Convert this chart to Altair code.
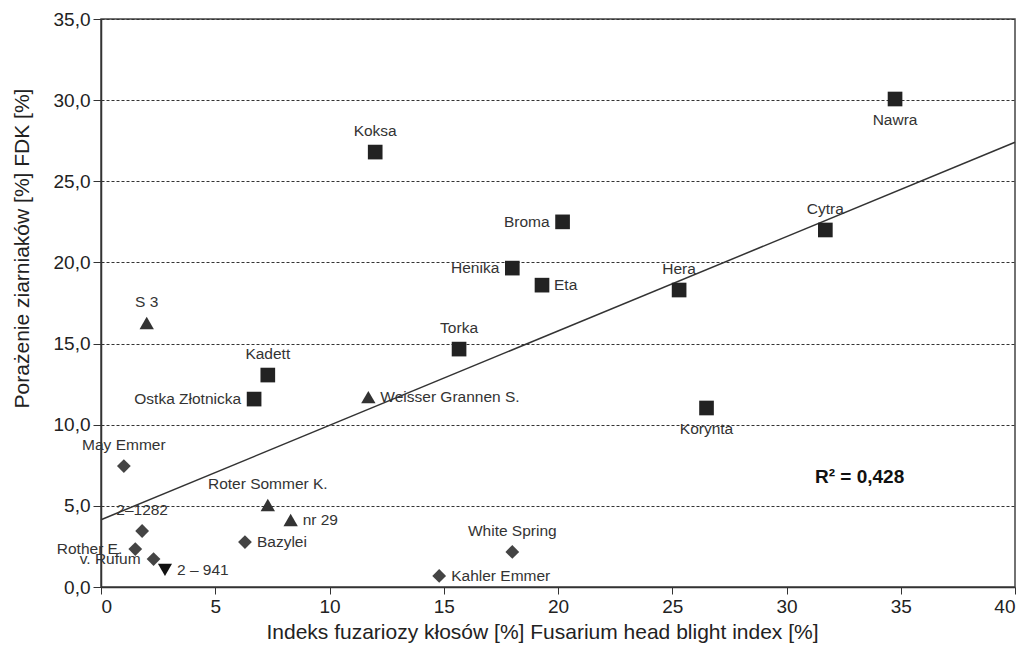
import altair as alt
import pandas as pd

names = ["Nawra", "Koksa", "Broma", "Henika", "Eta", "Cytra", "Hera", "Torka",
         "Kadett", "Ostka Złotnicka", "Korynta",
         "S 3", "Weisser Grannen S.", "Roter Sommer K.", "nr 29",
         "2 – 941",
         "May Emmer", "2–1282", "Rother E.", "v. Rufum", "Bazylei", "White Spring", "Kahler Emmer"]
fhb = [34.75, 12.0, 20.2, 18.0, 19.3, 31.7, 25.3, 15.67,
       7.3, 6.7, 26.5,
       2.0, 11.7, 7.3, 8.3,
       2.8,
       1.0, 1.8, 1.5, 2.3, 6.3, 18.0, 14.8]
fdk = [30.07, 26.8, 22.5, 19.65, 18.6, 22.0, 18.3, 14.66,
       13.06, 11.58, 11.03,
       16.27, 11.7, 5.05, 4.13,
       1.05,
       7.45, 3.45, 2.34, 1.72, 2.77, 2.16, 0.68]
group = ["sq"] * 11 + ["tu"] * 4 + ["td"] + ["dm"] * 7
label_side = ["below", "above", "left", "left", "right", "above", "above", "above",
              "above", "left", "below",
              "above", "right", "above", "right",
              "right",
              "above", "above", "left", "left", "right", "above", "right"]

x_ticks = [0, 5, 10, 15, 20, 25, 30, 35, 40]
y_ticks = [0, 5, 10, 15, 20, 25, 30, 35]
r2_text = ["R² = 0,428"]
r2_x = [33.2]
r2_y = [6.8]

df = pd.DataFrame({"name": names, "fhb": fhb, "fdk": fdk, "group": group, "side": label_side})
r2_df = pd.DataFrame({"t": r2_text, "x": r2_x, "y": r2_y})

FONT = "Liberation Sans"

xenc = alt.X("fhb:Q", scale=alt.Scale(domain=[0, 40], nice=False),
             axis=alt.Axis(values=x_ticks, grid=False, title="Indeks fuzariozy kłosów [%] Fusarium head blight index [%]",
                           labelFontSize=19, titleFontSize=21, titleFontWeight="normal",
                           labelColor="#222", titleColor="#222", domainColor="#333", tickColor="#333",
                           tickSize=7, labelPadding=3, labelFont=FONT, titleFont=FONT,
                           titleX=441, titleY=45, titleBaseline="middle", titleAlign="center",
                           domainWidth=1.5))
yenc = alt.Y("fdk:Q", scale=alt.Scale(domain=[0, 35], nice=False),
             axis=alt.Axis(values=y_ticks, grid=True, gridDash=[3, 2], gridColor="#333", gridWidth=1,
                           title="Porażenie ziarniaków [%] FDK [%]",
                           labelExpr="replace(format(datum.value, '.1f'), '.', ',')",
                           labelFontSize=19, titleFontSize=21, titleFontWeight="normal",
                           labelColor="#222", titleColor="#222", domainColor="#333", tickColor="#333",
                           tickSize=8, labelPadding=3, labelFont=FONT, titleFont=FONT,
                           titleX=-79, titleY=229, titleAngle=270, titleBaseline="middle", titleAlign="center",
                           domainWidth=1.5))

base = alt.Chart(df)

points = base.mark_point(filled=True, opacity=1).encode(
    x=xenc, y=yenc,
    shape=alt.Shape("group:N", scale=alt.Scale(domain=["sq", "tu", "td", "dm"],
                                               range=["square", "triangle-up", "triangle-down", "diamond"]), legend=None),
    color=alt.Color("group:N", scale=alt.Scale(domain=["sq", "tu", "td", "dm"],
                                               range=["#222222", "#333333", "#111111", "#444444"]), legend=None),
    size=alt.Size("group:N", scale=alt.Scale(domain=["sq", "tu", "td", "dm"],
                                             range=[215, 190, 190, 190]), legend=None),
)

line = base.transform_regression("fhb", "fdk", extent=[0, 40]).mark_line(
    color="#333333", strokeWidth=1.5).encode(x="fhb:Q", y="fdk:Q")

def labels(side, **kw):
    return base.transform_filter(alt.datum.side == side).mark_text(
        font=FONT, fontSize=15.5, color="#333333", **kw).encode(x="fhb:Q", y="fdk:Q", text="name:N")

lab_above = labels("above", align="center", baseline="middle", dy=-21)
lab_below = labels("below", align="center", baseline="middle", dy=21)
lab_left = labels("left", align="right", baseline="middle", dx=-13)
lab_right = labels("right", align="left", baseline="middle", dx=12)

r2 = alt.Chart(r2_df).mark_text(font=FONT, fontSize=19, fontWeight="bold", color="#111111",
                                align="center", baseline="middle").encode(x="x:Q", y="y:Q", text="t:N")

chart = alt.layer(line, points, lab_above, lab_below, lab_left, lab_right, r2).properties(
    width=914, height=568,
    autosize=alt.AutoSizeParams(type="none"),
    padding={"left": 101, "top": 19, "right": 13, "bottom": 83},
    background="white",
).configure_view(stroke="#444444", strokeWidth=1.5)

chart.save("out.html", embed_options={"renderer": "svg", "actions": False})
